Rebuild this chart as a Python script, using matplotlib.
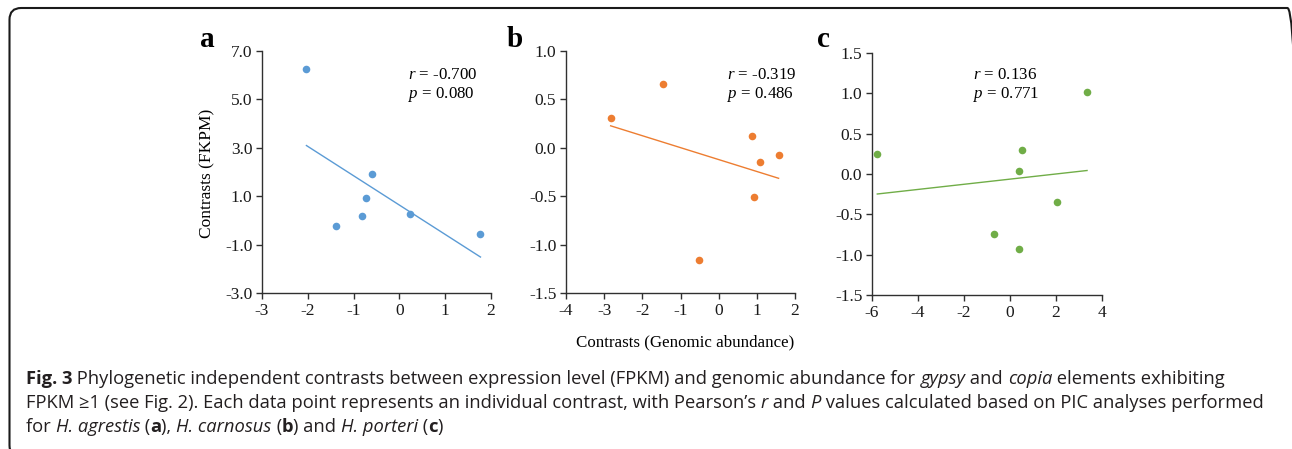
import numpy as np
import matplotlib
matplotlib.use('Agg')
from matplotlib import pyplot as plt
from matplotlib.patches import FancyBboxPatch

plt.rcParams['font.family'] = ['Liberation Serif', 'DejaVu Serif']
plt.rcParams['mathtext.fontset'] = 'custom'
plt.rcParams['mathtext.rm'] = 'Liberation Serif'
plt.rcParams['mathtext.it'] = 'Liberation Serif:italic'

W, H = 1292, 449

# panel a: H. agrestis
a_x = [-2.03, -1.38, -0.81, -0.73, -0.59, 0.23, 1.77]
a_y = [6.26, -0.25, 0.17, 0.94, 1.90, 0.28, -0.58]
# panel b: H. carnosus
b_x = [-2.83, -1.46, -0.52, 0.87, 1.08, 1.57, 0.92]
b_y = [0.31, 0.66, -1.16, 0.12, -0.15, -0.075, -0.51]
# panel c: H. porteri
c_x = [-5.77, -0.70, 0.38, 0.50, 0.41, 2.03, 3.35]
c_y = [0.244, -0.748, 0.041, 0.293, -0.93, -0.351, 1.012]

stats = [('-0.700', '0.080'), ('-0.319', '0.486'), ('0.136', '0.771')]
letters = ['a', 'b', 'c']
colors = ['#5B9BD5', '#ED7D31', '#70AD47']

xlims = [(-3, 2), (-4, 2), (-6, 4)]
xticks = [np.arange(-3, 3, 1), np.arange(-4, 3, 1), np.arange(-6, 5, 2)]
ylims = [(-3, 7), (-1.5, 1.0), (-1.5, 1.5)]
yticks = [np.arange(-3, 7.1, 2), np.arange(-1.5, 1.01, 0.5), np.arange(-1.5, 1.51, 0.5)]

# axes boxes in pixels: left, top, right, bottom
boxes = [(262, 51, 491, 293), (566, 51, 795, 293), (872, 53, 1102, 295)]
stat_pos = [(408, 75), (727, 75), (973, 75)]
letter_x = [200, 507, 817]


def px(x, y):
    return x / W, 1 - y / H


fig = plt.figure(figsize=(W / 100, H / 100), dpi=100)

data = [(a_x, a_y), (b_x, b_y), (c_x, c_y)]
for i, (xs, ys) in enumerate(data):
    l, t, r, b = boxes[i]
    ax = fig.add_axes([l / W, 1 - b / H, (r - l) / W, (b - t) / H])
    xs = np.array(xs)
    ys = np.array(ys)
    ax.scatter(xs, ys, s=30, color=colors[i], zorder=3, linewidths=0)
    # least squares trend line over the data range
    k, c0 = np.polyfit(xs, ys, 1)
    lx = np.array([xs.min(), xs.max()])
    ax.plot(lx, k * lx + c0, color=colors[i], lw=1.0)
    ax.set_xlim(*xlims[i])
    ax.set_ylim(*ylims[i])
    ax.set_xticks(xticks[i])
    ax.set_yticks(yticks[i])
    ax.set_xticklabels([str(v) for v in xticks[i]])
    ax.set_yticklabels(['%.1f' % v for v in yticks[i]])
    for s in ['top', 'right']:
        ax.spines[s].set_visible(False)
    for s in ['left', 'bottom']:
        ax.spines[s].set_color('#303030')
        ax.spines[s].set_linewidth(1.0)
    ax.tick_params(direction='out', length=4.5, width=1.0, color='#303030',
                   labelsize=12.5, pad=2.5, labelcolor='#1a1a1a')
    ax.patch.set_alpha(0)
    sx, sy = stat_pos[i]
    fig.text(*px(sx, sy), r'$r$ = ' + stats[i][0], fontsize=12.2, va='center')
    fig.text(*px(sx, sy + 20), r'$p$ = ' + stats[i][1], fontsize=12.2, va='center')
    fig.text(*px(letter_x[i], 47), letters[i], fontsize=21, fontweight='bold',
             va='baseline')

fig.text(*px(207, 173), 'Contrasts (FKPM)', rotation=90, fontsize=12.5,
         ha='center', va='center')
fig.text(*px(685, 342), 'Contrasts (Genomic abundance)', fontsize=12.2,
         ha='center', va='center')

# frame round the figure, its right and bottom edges fall just off the picture
frame = FancyBboxPatch((9.5 / W, -8 / H), (1299 - 9.5) / W, (H - 8 + 8) / H,
                       boxstyle='round,pad=0,rounding_size=0.009',
                       transform=fig.transFigure, fill=False, lw=1.5,
                       edgecolor='#1a1a1a', mutation_aspect=W / H)
fig.add_artist(frame)

# caption, drawn run by run
caption = [
    [('Fig. 3', 'bold'), (' Phylogenetic independent contrasts between expression level (FPKM) and genomic abundance for ', 'normal'),
     ('gypsy', 'italic'), (' and ', 'normal'), ('copia', 'italic'), (' elements exhibiting', 'normal')],
    [('FPKM \u22651 (see Fig. 2). Each data point represents an individual contrast, with Pearson\u2019s ', 'normal'),
     ('r', 'italic'), (' and ', 'normal'), ('P', 'italic'), (' values calculated based on PIC analyses performed', 'normal')],
    [('for ', 'normal'), ('H. agrestis', 'italic'), (' (', 'normal'), ('a', 'bold'), ('), ', 'normal'),
     ('H. carnosus', 'italic'), (' (', 'normal'), ('b', 'bold'), (') and ', 'normal'),
     ('H. porteri', 'italic'), (' (', 'normal'), ('c', 'bold'), (')', 'normal')],
]
cap_y = [379, 403, 427]
cap_x0 = 26
cap_fam = ['Open Sans', 'DejaVu Sans']
renderer = fig.canvas.get_renderer()


def draw_line(runs, y, size):
    x = cap_x0
    arts = []
    for txt, style in runs:
        kw = dict(fontsize=size, family=cap_fam, va='center', color='#231f20')
        if style == 'bold':
            kw['fontweight'] = 'bold'
        if style == 'italic':
            kw['fontstyle'] = 'italic'
        t = fig.text(*px(x, y), txt, **kw)
        bb = t.get_window_extent(renderer)
        x = bb.x1
        arts.append(t)
    return x, arts


# fit the font size so the second line ends where it does in the figure
end, arts = draw_line(caption[1], cap_y[1], 11)
for a in arts:
    a.remove()
size = 11 * (1268 - cap_x0) / (end - cap_x0)
for runs, y in zip(caption, cap_y):
    draw_line(runs, y, size)

fig.savefig('out.png', dpi=100)
